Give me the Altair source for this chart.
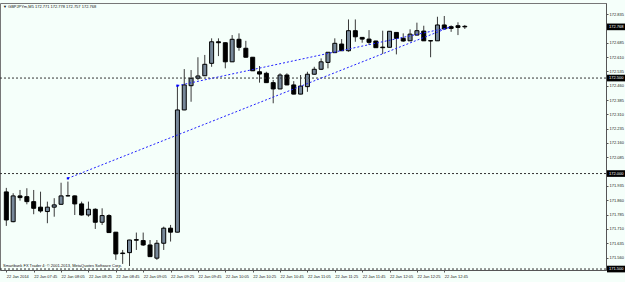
import json
import altair as alt
import pandas as pd

# ---- data (GBPJPYm, M5, 22 Jan 2014, bars from 07:25) ----
opens = [171.904, 171.748, 171.883, 171.879, 171.853, 171.824, 171.801, 171.824, 171.839, 171.884,
         171.883, 171.841, 171.783, 171.813, 171.745, 171.780, 171.693, 171.584, 171.586, 171.654,
         171.649, 171.626, 171.557, 171.635, 171.714, 171.693, 172.333, 172.460, 172.499, 172.512,
         172.577, 172.690, 172.685, 172.585, 172.703, 172.656, 172.609, 172.533, 172.525, 172.476,
         172.443, 172.516, 172.464, 172.416, 172.455, 172.520, 172.546, 172.582, 172.633, 172.678,
         172.643, 172.748, 172.713, 172.704, 172.694, 172.662, 172.661, 172.739, 172.708, 172.695,
         172.725, 172.746, 172.696, 172.695, 172.778, 172.769, 172.774, 172.771]
highs = [171.925, 171.897, 171.914, 171.923, 171.914, 171.905, 171.853, 171.871, 171.952, 171.958,
         171.885, 171.853, 171.853, 171.818, 171.818, 171.787, 171.694, 171.600, 171.653, 171.691,
         171.691, 171.652, 171.652, 171.722, 171.731, 172.460, 172.547, 172.542, 172.609, 172.621,
         172.708, 172.708, 172.687, 172.725, 172.734, 172.695, 172.610, 172.563, 172.533, 172.490,
         172.525, 172.525, 172.484, 172.516, 172.533, 172.559, 172.603, 172.636, 172.708, 172.704,
         172.807, 172.807, 172.714, 172.751, 172.695, 172.748, 172.746, 172.740, 172.734, 172.755,
         172.790, 172.774, 172.697, 172.821, 172.825, 172.776, 172.792, 172.778]
lows = [171.726, 171.745, 171.858, 171.839, 171.787, 171.795, 171.740, 171.774, 171.837, 171.880,
        171.783, 171.780, 171.774, 171.710, 171.731, 171.689, 171.548, 171.527, 171.516, 171.600,
        171.621, 171.563, 171.548, 171.600, 171.644, 171.692, 172.332, 172.376, 172.490, 172.511,
        172.559, 172.615, 172.551, 172.584, 172.643, 172.608, 172.537, 172.476, 172.475, 172.368,
        172.442, 172.463, 172.415, 172.415, 172.428, 172.519, 172.542, 172.551, 172.632, 172.642,
        172.638, 172.690, 172.685, 172.673, 172.658, 172.626, 172.660, 172.624, 172.690, 172.694,
        172.724, 172.694, 172.609, 172.694, 172.756, 172.742, 172.725, 172.757]
closes = [171.757, 171.883, 171.874, 171.853, 171.818, 171.804, 171.824, 171.836, 171.883, 171.883,
          171.841, 171.783, 171.813, 171.745, 171.780, 171.691, 171.579, 171.581, 171.652, 171.651,
          171.626, 171.565, 171.635, 171.714, 171.693, 172.333, 172.464, 172.499, 172.511, 172.572,
          172.690, 172.685, 172.585, 172.703, 172.661, 172.609, 172.538, 172.521, 172.476, 172.443,
          172.516, 172.464, 172.416, 172.458, 172.520, 172.546, 172.585, 172.635, 172.682, 172.643,
          172.748, 172.716, 172.704, 172.687, 172.659, 172.659, 172.745, 172.708, 172.694, 172.730,
          172.748, 172.695, 172.694, 172.778, 172.757, 172.760, 172.765, 172.768]

tick_index = [0, 4, 8, 12, 16, 20, 24, 28, 32, 36, 40, 44, 48, 52, 56, 60, 64]
tick_labels = ["22 Jan 2014", "22 Jan 07:45", "22 Jan 08:05", "22 Jan 08:25", "22 Jan 08:45",
               "22 Jan 09:05", "22 Jan 09:25", "22 Jan 09:45", "22 Jan 10:05", "22 Jan 10:25",
               "22 Jan 10:45", "22 Jan 11:05", "22 Jan 11:25", "22 Jan 11:45", "22 Jan 12:05",
               "22 Jan 12:25", "22 Jan 12:45"]
price_ticks = [172.835, 172.760, 172.685, 172.610, 172.535, 172.460, 172.385, 172.310, 172.235,
               172.160, 172.085, 172.010, 171.935, 171.860, 171.785, 171.710, 171.635, 171.560, 171.485]
hidden_tick_labels = [172.760, 172.010, 171.485]  # covered by the price badges

hline_levels = [172.500, 172.000, 171.500]
marked_prices = [172.768, 172.500, 172.000, 171.500]

trend_start_idx = [9, 25]
trend_start_price = [171.975, 172.460]
trend_end_idx = [65, 65]
trend_end_price = [172.769, 172.767]

title_text = "▼ GBPJPYm,M5  172.771 172.778 172.757 172.768"
footer_text = "Smartbank FX Trader 4: © 2001-2013, MetaQuotes Software Corp."

# ---- tables ----
bars = pd.DataFrame({"i": list(range(len(opens))), "o": opens, "h": highs, "l": lows, "c": closes})
bars["dir"] = ["up" if c >= o else "down" for o, c in zip(opens, closes)]
hl = pd.DataFrame({"p": hline_levels})
marks = pd.DataFrame({"p": marked_prices})
trends = pd.DataFrame({"x1": trend_start_idx, "y1": trend_start_price,
                       "x2": trend_end_idx, "y2": trend_end_price})

FONT = "Liberation Sans"
xscale = alt.Scale(domain=[-0.194, 86.9], nice=False, zero=False)
yscale = alt.Scale(domain=[171.495, 172.893], nice=False, zero=False)
label_expr = json.dumps(tick_labels) + "[round(datum.value/4)]"
hide_cond = " || ".join(f"abs(datum.value - {v}) < 0.0005" for v in hidden_tick_labels)
ylabel_expr = f"({hide_cond}) ? '' : format(datum.value, '.3f')"

xaxis = alt.Axis(values=tick_index, labelExpr=label_expr, labelAlign="left", labelBaseline="top",
                 labelFontSize=4, labelFont=FONT, labelColor="#222", labelPadding=2, tickSize=2,
                 tickColor="#555", domainColor="#555", grid=False, title=None, labelOverlap=False,
                 labelFlush=False)
yaxis = alt.Axis(values=price_ticks, orient="right", labelExpr=ylabel_expr, labelFontSize=4,
                 labelFont=FONT, labelColor="#222", labelPadding=1, tickSize=2, tickColor="#555",
                 domainColor="#555", grid=False, title=None, labelOverlap=False, labelFlush=False)


def X(f):
    return alt.X(f, type="quantitative", scale=xscale, axis=xaxis)


def Y(f):
    return alt.Y(f, type="quantitative", scale=yscale, axis=yaxis)


base = alt.Chart(bars)
wicks = base.mark_rule(color="#3a3a3a", strokeWidth=1).encode(x=X("i"), y=Y("l"), y2="h")
bodies = base.mark_bar(size=4, stroke="black", strokeWidth=1).encode(
    x=X("i"), y=Y("o"), y2="c",
    color=alt.Color("dir:N", scale=alt.Scale(domain=["up", "down"], range=["#778899", "#000000"]),
                    legend=None))

levels = alt.Chart(hl).mark_rule(color="#333", strokeWidth=1, strokeDash=[2, 2]).encode(y=Y("p"))

tlines = alt.Chart(trends).mark_rule(color="#2020ff", strokeWidth=1, strokeDash=[2, 2]).encode(
    x=X("x1"), x2="x2", y=Y("y1"), y2="y2")
tmark = alt.Chart(trends).mark_square(color="#0000ff", size=5, opacity=1).encode(x=X("x1"), y=Y("y1"))

badge = alt.Chart(marks).mark_point(
    shape="M-1,-0.37H1V0.37H-1Z", filled=True, fill="black", stroke=None, size=324, opacity=1
).encode(x=alt.value(616), y=Y("p"))
badge_txt = alt.Chart(marks).mark_text(color="white", fontSize=4, font=FONT, align="left",
                                       baseline="middle").encode(
    x=alt.value(609), y=Y("p"), text=alt.Text("p:Q", format=".3f"))

title = alt.Chart(pd.DataFrame({"t": [title_text]})).mark_text(
    fontSize=4, font=FONT, align="left", baseline="top", color="#111").encode(
    x=alt.value(3), y=alt.value(1.5), text="t:N")
footer = alt.Chart(pd.DataFrame({"t": [footer_text]})).mark_text(
    fontSize=4, font=FONT, align="left", baseline="bottom", color="#111").encode(
    x=alt.value(3), y=alt.value(265), text="t:N")

chart = alt.layer(wicks, bodies, levels, tlines, tmark, badge, badge_txt, title, footer).properties(
    width=606, height=267, autosize="none",
    padding={"left": 0, "top": 3, "right": 19, "bottom": 12},
).configure(background="#F5FFFA").configure_view(stroke="#777", strokeWidth=1)

chart.save("out.html", embed_options={"renderer": "svg", "actions": False})
